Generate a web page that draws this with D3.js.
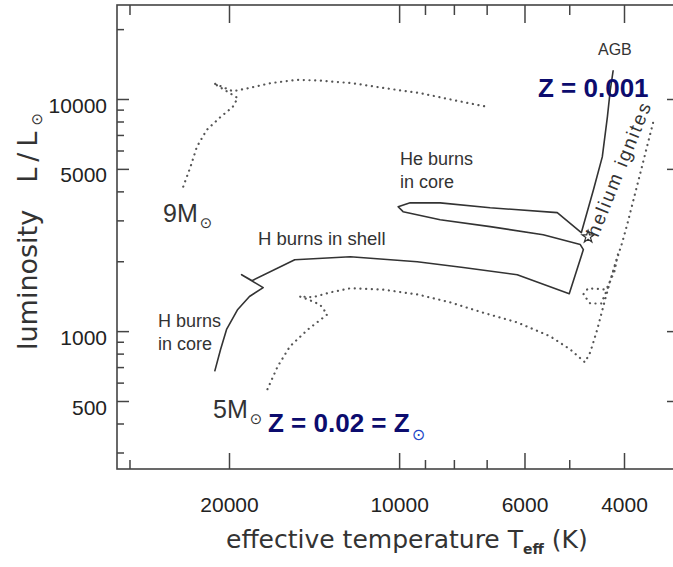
<!DOCTYPE html>
<html>
<head>
<meta charset="utf-8">
<script src="https://cdn.jsdelivr.net/npm/d3@7"></script>
<style>
body { margin: 0; background: #fff; }
svg { display: block; }
</style>
</head>
<body>
<div id="chart"></div>
<script>
// tick values
var xMajor = [20000, 10000, 6000, 4000]
var xMinor = [30000, 9000, 8000, 7000, 5000]
var yMajor = [10000, 5000, 1000, 500]
var yMinor = [20000, 9000, 8000, 7000, 6000, 4000, 3000, 2000, 900, 800, 700, 600, 400, 300]

// tracks, [Teff (K), L/Lsun]
var track9 = [[24100,4190],[23400,5100],[22800,6220],[21900,7360],[20700,8370],[19700,9240],[19300,10100],
  [21300,11700],[19700,10800],[18600,11100],[16900,11700],[15200,12100],[13800,12000],[12100,11700],
  [10500,11100],[9180,10600],[8030,9900],[6960,9240]]

var track5 = [[21200,671],[20700,834],[20200,1017],[19300,1240],[18400,1410],[17400,1540],[19000,1750],
  [18200,1650],[15300,2030],[12200,2090],[9290,1990],[7700,1880],[6180,1750],[5000,1450],[4720,2245],
  [4780,2360],[5560,2600],[6900,2820],[8460,3020],[9840,3270],[10040,3435],[9560,3570],[8460,3570],
  [6900,3400],[5250,3240],[4760,2655],[4530,4065],[4370,5630],[4280,8370],[4230,10930],[4180,13300]]

var track5sun = [[17100,562],[16400,705],[15600,860],[14500,1017],[13400,1180],[13800,1300],[14500,1370],
  [15000,1410],[14200,1400],[13200,1470],[12200,1530],[10700,1510],[9290,1440],[8120,1330],[7100,1200],
  [6180,1090],[5400,949],[4980,834],[4690,734],[4590,810],[4460,1017],[4320,1370],[4200,1750],[4100,2140],
  [4160,1805],[4300,1510],[4630,1530],[4720,1440],[4590,1315],[4390,1315],[4270,1540],[4130,1990],
  [4030,2405],[3950,2870],[3750,4710],[3550,7970]]

var starPoint = [[4630,2550]]

var width = 673, height = 567
var plotW = 558, plotH = 464
var x = d3.scaleLog().domain([20000,4000]).range([112,507])
var y = d3.scaleLog().domain([10000,500]).range([94,396])

var svg = d3.select("#chart").append("svg")
    .attr("width", width)
    .attr("height", height)
    .style("font-family", "'Liberation Sans', Arial, sans-serif")

var g = svg.append("g").attr("transform", "translate(117,5)")

function tidy(sel) {
  sel.select(".domain").remove()
  sel.attr("color", "#444")
  sel.selectAll("line").attr("stroke-width", 1.5)
}

// bottom
g.append("g").attr("transform", "translate(0," + plotH + ")")
  .call(d3.axisBottom(x).tickValues(xMinor).tickSize(-9).tickFormat(""))
  .call(tidy)
var bx = g.append("g").attr("transform", "translate(0," + plotH + ")")
  .call(d3.axisBottom(x).tickValues(xMajor).tickSize(-16).tickPadding(28).tickFormat(d3.format("d")))
  .call(tidy)
bx.selectAll("text").attr("font-size", 21).attr("font-family", "'Liberation Sans', Arial").attr("fill", "#222")

// top
g.append("g").call(d3.axisTop(x).tickValues(xMinor).tickSize(-10).tickFormat("")).call(tidy)
g.append("g").call(d3.axisTop(x).tickValues(xMajor).tickSize(-18).tickFormat("")).call(tidy)

// left
g.append("g").call(d3.axisLeft(y).tickValues(yMinor).tickSize(-7).tickFormat("")).call(tidy)
var ly = g.append("g")
  .call(d3.axisLeft(y).tickValues(yMajor).tickSize(-12).tickPadding(10).tickFormat(d3.format("d")))
  .call(tidy)
ly.selectAll("text").attr("font-size", 21).attr("font-family", "'Liberation Sans', Arial").attr("fill", "#222").attr("dy", "0.62em")

// right
g.append("g").attr("transform", "translate(" + plotW + ",0)")
  .call(d3.axisRight(y).tickValues(yMajor).tickSize(-8).tickFormat("")).call(tidy)

g.append("rect")
  .attr("width", plotW).attr("height", plotH)
  .attr("fill", "none").attr("stroke", "#444").attr("stroke-width", 1.6)

var line = d3.line().x(function(d){ return x(d[0]) }).y(function(d){ return y(d[1]) })

// labels in the plot
function label(px, py, lines, size) {
  var t = svg.append("text").attr("x", px).attr("y", py)
    .attr("font-size", size).attr("fill", "#333")
  lines.forEach(function(s, i) {
    t.append("tspan").attr("x", px).attr("dy", i == 0 ? 0 : "1.28em").text(s)
  })
}
label(400, 165, ["He burns", "in core"], 18)
label(258, 245, ["H burns in shell"], 18.5)
label(158, 327, ["H burns", "in core"], 18)
label(598, 55, ["AGB"], 16)

svg.append("text")
  .attr("transform", "translate(598,238) rotate(-68)")
  .attr("font-size", 19).attr("letter-spacing", 2).attr("fill", "#333")
  .text("helium ignites")

function mass(px, py, s) {
  var t = svg.append("text").attr("x", px).attr("y", py).attr("font-size", 25).attr("fill", "#333")
  t.append("tspan").text(s)
  t.append("tspan").attr("font-family", "'DejaVu Sans'").attr("font-size", 15).attr("dx", 2).attr("dy", 6).text("\u2299")
}
mass(163, 222, "9M")
mass(213, 418, "5M")

svg.append("text").attr("x", 538).attr("y", 97)
  .attr("font-size", 26).attr("font-weight", "bold").attr("fill", "#0c0c6e")
  .text("Z = 0.001")

var zs = svg.append("text").attr("x", 268).attr("y", 432)
  .attr("font-size", 26).attr("font-weight", "bold").attr("fill", "#0c0c6e")
zs.append("tspan").text("Z = 0.02 = Z")
zs.append("tspan").attr("font-family", "'DejaVu Sans'").attr("font-weight", "normal")
  .attr("font-size", 16).attr("fill", "#2347c8").attr("dx", 2).attr("dy", 8).text("\u2299")

// tracks
g.append("path").datum(track9).attr("d", line)
  .attr("fill", "none").attr("stroke", "#555").attr("stroke-width", 2.2)
  .attr("stroke-linecap", "round").attr("stroke-dasharray", "0.1 5.6")
g.append("path").datum(track5sun).attr("d", line)
  .attr("fill", "none").attr("stroke", "#555").attr("stroke-width", 2.2)
  .attr("stroke-linecap", "round").attr("stroke-dasharray", "0.1 5.6")
g.append("path").datum(track5).attr("d", line)
  .attr("fill", "none").attr("stroke", "#333").attr("stroke-width", 1.6)
  .attr("stroke-linejoin", "round")

g.selectAll(".star").data(starPoint).enter().append("path")
  .attr("class", "star")
  .attr("transform", function(d){ return "translate(" + x(d[0]) + "," + y(d[1]) + ")" })
  .attr("d", d3.symbol(d3.symbolStar, 45))
  .attr("fill", "#fff").attr("stroke", "#333").attr("stroke-width", 1.2)

// axis titles
var xt = svg.append("text").attr("x", 226).attr("y", 548)
  .attr("font-family", "'DejaVu Sans'").attr("font-size", 25).attr("fill", "#333")
xt.append("tspan").text("effective temperature T")
xt.append("tspan").attr("font-size", 14).attr("dy", 6).attr("font-weight", "bold").text("eff")
xt.append("tspan").attr("dy", -6).text(" (K)")

svg.append("text")
  .attr("transform", "translate(37,350) rotate(-90)")
  .attr("font-family", "'DejaVu Sans'").attr("font-size", 27).attr("fill", "#333")
  .text("luminosity")
var yt = svg.append("text")
  .attr("transform", "translate(37,113) rotate(-90)")
  .attr("text-anchor", "end")
  .attr("font-family", "'DejaVu Sans'").attr("font-size", 27).attr("fill", "#333")
yt.append("tspan").attr("letter-spacing", 6).text("L/L")
yt.append("tspan").attr("font-size", 15).attr("dy", 5).text("\u2299")
</script>
</body>
</html>
